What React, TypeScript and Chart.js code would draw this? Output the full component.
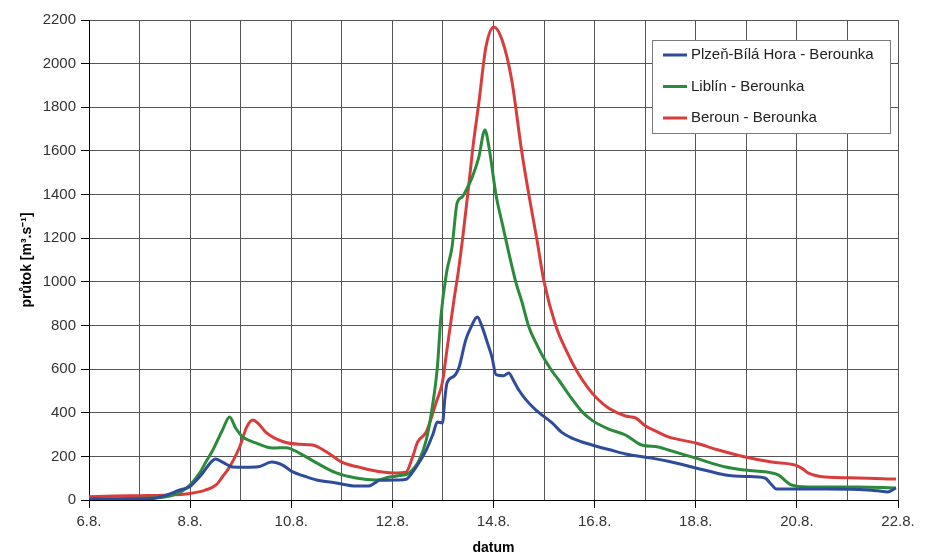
import React, { useEffect, useRef } from 'react';
import { Chart, registerables } from 'chart.js';

Chart.register(...registerables);

// x values are days of August (6 = 6.8., 22 = 22.8.)
const seriesNames = ['Plzeň-Bílá Hora - Berounka', 'Liblín - Berounka', 'Beroun - Berounka'];
const seriesColors = ['#2f4b9b', '#2c8a3c', '#d93c3c'];

const xMin = 6;
const xMax = 22;
const yMin = 0;
const yMax = 2200;
const yStep = 200;

const plzenDays = [6.0, 6.5, 7.0, 7.3, 7.54, 7.8, 8.0, 8.13, 8.25, 8.4, 8.5, 8.65, 8.84, 9.1, 9.35, 9.61, 9.83, 10.02, 10.25, 10.5, 10.89, 11.28, 11.54, 11.65, 11.75, 12.14, 12.27, 12.4, 12.55, 12.67, 12.8, 12.89, 12.99, 13.04, 13.08, 13.22, 13.32, 13.45, 13.55, 13.68, 13.78, 13.88, 13.97, 14.05, 14.2, 14.3, 14.4, 14.5, 14.64, 14.84, 15.16, 15.35, 15.55, 15.95, 16.3, 16.61, 17.13, 17.5, 18.0, 18.59, 19.0, 19.37, 19.47, 19.6, 20.56, 21.4, 21.6, 21.8, 21.96];
const plzenFlow = [5, 5, 5, 8, 23, 46, 62, 92, 124, 170, 188, 172, 151, 150, 152, 174, 160, 130, 110, 92, 78, 64, 64, 78, 90, 92, 95, 128, 180, 229, 300, 357, 353, 470, 536, 568, 610, 733, 790, 839, 790, 720, 655, 575, 570, 582, 545, 504, 460, 412, 353, 310, 284, 252, 230, 211, 192, 175, 147, 115, 108, 101, 78, 50, 50, 46, 42, 37, 55];

const liblinDays = [6.0, 6.5, 7.0, 7.5, 7.93, 8.19, 8.3, 8.45, 8.64, 8.78, 8.9, 9.04, 9.31, 9.63, 9.9, 10.16, 10.5, 10.89, 11.28, 11.68, 11.94, 12.14, 12.33, 12.53, 12.67, 12.79, 12.89, 12.96, 13.07, 13.18, 13.28, 13.38, 13.48, 13.58, 13.71, 13.83, 13.91, 14.05, 14.17, 14.44, 14.56, 14.7, 14.84, 14.96, 15.16, 15.29, 15.5, 15.75, 15.95, 16.28, 16.61, 16.93, 17.26, 17.46, 18.0, 18.59, 18.98, 19.5, 19.63, 19.89, 20.22, 21.2, 21.96];
const liblinFlow = [3, 5, 8, 14, 55, 124, 170, 229, 321, 380, 330, 289, 261, 238, 240, 215, 170, 124, 101, 92, 105, 112, 124, 183, 275, 426, 610, 839, 1040, 1160, 1361, 1389, 1430, 1480, 1572, 1696, 1618, 1398, 1270, 1000, 910, 793, 720, 665, 590, 550, 480, 405, 365, 325, 298, 252, 243, 229, 192, 151, 137, 124, 115, 69, 60, 60, 55];

const berounDays = [6.0, 6.5, 7.0, 7.5, 8.0, 8.3, 8.52, 8.65, 8.78, 8.98, 9.12, 9.24, 9.35, 9.5, 9.83, 10.16, 10.42, 10.7, 11.0, 11.4, 11.8, 12.08, 12.27, 12.4, 12.5, 12.67, 12.87, 12.99, 13.08, 13.22, 13.3, 13.4, 13.5, 13.6, 13.71, 13.85, 14.01, 14.17, 14.36, 14.56, 14.7, 14.86, 15.0, 15.23, 15.45, 15.65, 15.85, 16.05, 16.28, 16.61, 16.81, 17.0, 17.26, 17.46, 18.0, 18.45, 18.98, 19.5, 19.97, 20.1, 20.22, 20.56, 21.2, 21.96];
const berounFlow = [15, 18, 20, 22, 30, 45, 70, 110, 151, 243, 335, 367, 350, 310, 268, 255, 252, 220, 174, 147, 128, 124, 128, 197, 266, 312, 450, 540, 690, 920, 1040, 1220, 1420, 1630, 1820, 2076, 2168, 2108, 1925, 1595, 1398, 1192, 1000, 800, 680, 590, 520, 465, 420, 385, 376, 340, 310, 289, 261, 229, 197, 174, 160, 145, 124, 105, 101, 96];

const yTitle = 'průtok [m³.s⁻¹]';
const xTitle = 'datum';
const dayLabel = (d: number) => `${d}.8.`;

const FONT = '"Liberation Sans", Arial, sans-serif';

const toPoints = (days: number[], vals: number[]) => days.map((d, i) => ({ x: d, y: vals[i] }));

const insideLegend = {
  id: 'insideLegend',
  afterDatasetsDraw(chart: any) {
    const { ctx, chartArea } = chart;
    const boxW = 238;
    const boxH = 93;
    const x0 = Math.round(chartArea.right - 8 - boxW);
    const y0 = Math.round(chartArea.top + 20);
    ctx.save();
    ctx.fillStyle = '#ffffff';
    ctx.fillRect(x0, y0, boxW, boxH);
    ctx.strokeStyle = '#7a7a7a';
    ctx.lineWidth = 1;
    ctx.strokeRect(x0 + 0.5, y0 + 0.5, boxW, boxH);
    ctx.font = `15px ${FONT}`;
    ctx.textBaseline = 'middle';
    ctx.textAlign = 'left';
    chart.data.datasets.forEach((ds: any, i: number) => {
      const y = y0 + 15 + i * 31.5;
      ctx.strokeStyle = ds.borderColor;
      ctx.lineWidth = 3;
      ctx.beginPath();
      ctx.moveTo(x0 + 11, y);
      ctx.lineTo(x0 + 35, y);
      ctx.stroke();
      ctx.fillStyle = '#222';
      ctx.fillText(ds.label, x0 + 39, y);
    });
    ctx.restore();
  },
};

export default function App() {
  const ref = useRef<HTMLCanvasElement | null>(null);

  useEffect(() => {
    document.body.style.margin = '0';
    if (!ref.current) return;
    const series = [
      toPoints(plzenDays, plzenFlow),
      toPoints(liblinDays, liblinFlow),
      toPoints(berounDays, berounFlow),
    ];
    const chart = new Chart(ref.current, {
      type: 'line',
      data: {
        datasets: series.map((pts, i) => ({
          label: seriesNames[i],
          data: pts,
          borderColor: seriesColors[i],
          backgroundColor: seriesColors[i],
          borderWidth: 3,
          pointRadius: 0,
          cubicInterpolationMode: 'monotone' as const,
          fill: false,
        })),
      },
      options: {
        responsive: false,
        animation: false,
        layout: { padding: { left: 0, right: 42, top: 20, bottom: 0 } },
        plugins: {
          legend: { display: false },
          tooltip: { enabled: false },
        },
        scales: {
          x: {
            type: 'linear',
            min: xMin,
            max: xMax,
            afterFit: (s: any) => { s.height = 60; },
            ticks: {
              stepSize: 1,
              autoSkip: false,
              maxRotation: 0,
              padding: 5,
              color: '#333',
              font: { family: FONT, size: 15 },
              callback: (v: any) => (Number(v) % 2 === 0 ? dayLabel(Number(v)) : ''),
            },
            grid: {
              color: '#555555',
              lineWidth: 1,
              tickLength: 8,
              tickColor: (c: any) => (c.tick && c.tick.value % 2 === 0 ? '#000' : 'rgba(0,0,0,0)'),
            },
            border: { color: '#000', width: 1 },
            title: {
              display: true,
              text: xTitle,
              color: '#000',
              font: { family: FONT, size: 14, weight: 'bold' },
              padding: { top: 0, bottom: 3 },
            },
          },
          y: {
            min: yMin,
            max: yMax,
            afterFit: (s: any) => { s.width = 89; },
            ticks: {
              stepSize: yStep,
              padding: 5,
              color: '#333',
              font: { family: FONT, size: 15 },
              callback: (v: any) => String(v),
            },
            grid: {
              color: '#555555',
              lineWidth: 1,
              tickLength: 8,
              tickColor: '#000',
            },
            border: { color: '#000', width: 1 },
            title: {
              display: true,
              text: yTitle,
              color: '#000',
              font: { family: FONT, size: 14, weight: 'bold' },
              padding: { top: 19, bottom: 0 },
            },
          },
        },
      },
      plugins: [insideLegend],
    });
    return () => chart.destroy();
  }, []);

  return (
    <div style={{ width: 940, height: 560 }}>
      <canvas ref={ref} width={940} height={560} style={{ display: 'block' }} />
    </div>
  );
}
